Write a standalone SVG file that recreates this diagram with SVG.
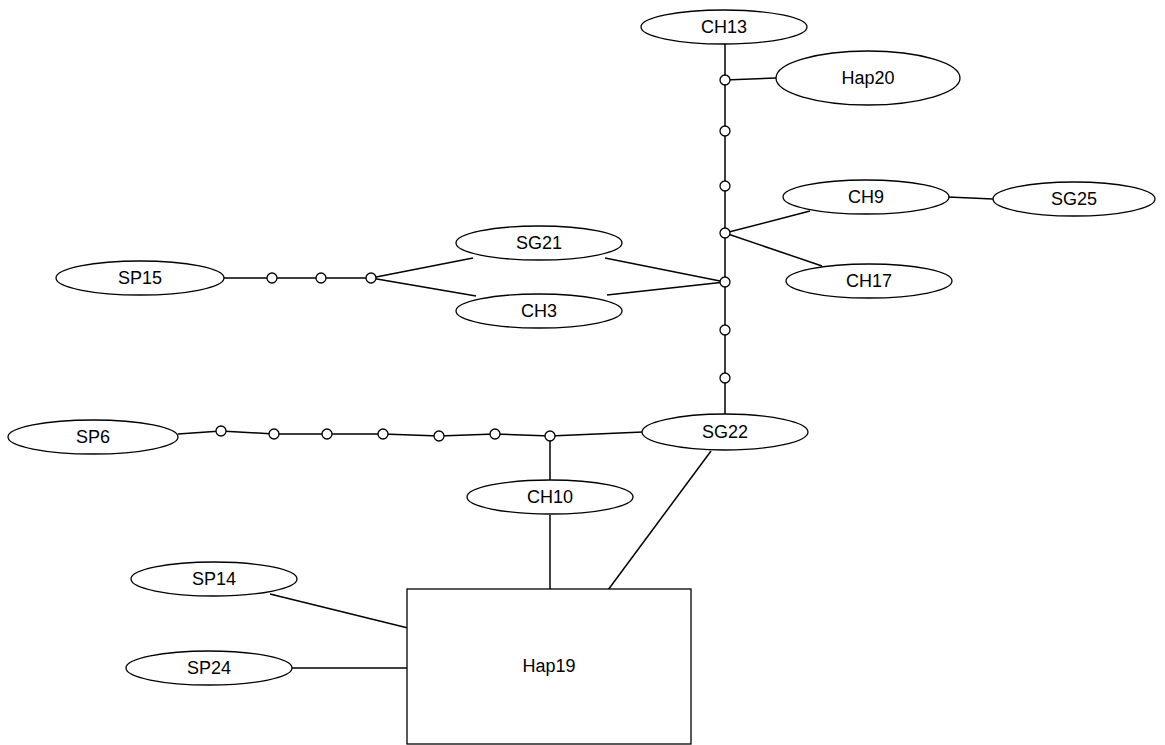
<svg xmlns="http://www.w3.org/2000/svg" width="1165" height="745" viewBox="0 0 1165 745">
<style>
.n{fill:#fff;stroke:#000;stroke-width:1.3}
.j{fill:#fff;stroke:#000;stroke-width:1.3}
.c line,.c polyline{stroke:#000;stroke-width:1.5;fill:none}
text{font-family:"Liberation Sans",Arial,sans-serif;font-size:18px;fill:#000;text-anchor:middle;dominant-baseline:central}
</style>
<rect width="1165" height="745" fill="#fff"/>
<g class="c" id="connectors">
<line x1="725" y1="44" x2="725" y2="414"/>
<line x1="725" y1="80" x2="776" y2="78"/>
<line x1="725" y1="233" x2="810" y2="211"/>
<line x1="725" y1="233" x2="822" y2="266"/>
<line x1="948" y1="197" x2="993" y2="199"/>
<line x1="725" y1="282" x2="605" y2="258"/>
<line x1="725" y1="282" x2="607" y2="295"/>
<line x1="371" y1="278" x2="473" y2="258"/>
<line x1="371" y1="278" x2="476" y2="296"/>
<line x1="224" y1="278" x2="371" y2="278"/>
<polyline points="178,434 221,431 274,434 327,434 383,434 439,436 495,434 550,436 643,432"/>
<line x1="550" y1="436" x2="550" y2="480"/>
<line x1="550" y1="515" x2="550" y2="590"/>
<line x1="711" y1="451" x2="608" y2="590"/>
<line x1="270" y1="594" x2="408" y2="628"/>
<line x1="292" y1="668" x2="408" y2="668"/>
</g>
<g id="junctions">
<circle class="j" cx="725" cy="80" r="5"/>
<circle class="j" cx="725" cy="131" r="5"/>
<circle class="j" cx="725" cy="186" r="5"/>
<circle class="j" cx="725" cy="233" r="5"/>
<circle class="j" cx="725" cy="282" r="5"/>
<circle class="j" cx="725" cy="330" r="5"/>
<circle class="j" cx="725" cy="378" r="5"/>
<circle class="j" cx="272" cy="278" r="5"/>
<circle class="j" cx="321" cy="278" r="5"/>
<circle class="j" cx="371" cy="278" r="5"/>
<circle class="j" cx="221" cy="431" r="5"/>
<circle class="j" cx="274" cy="434" r="5"/>
<circle class="j" cx="327" cy="434" r="5"/>
<circle class="j" cx="383" cy="434" r="5"/>
<circle class="j" cx="439" cy="436" r="5"/>
<circle class="j" cx="495" cy="434" r="5"/>
<circle class="j" cx="550" cy="436" r="5"/>
</g>
<g id="CH13"><ellipse class="n" cx="724" cy="27" rx="83" ry="17"/><text x="724" y="27">CH13</text></g>
<g id="Hap20"><ellipse class="n" cx="868" cy="78" rx="92" ry="27"/><text x="868" y="78">Hap20</text></g>
<g id="CH9"><ellipse class="n" cx="866" cy="197" rx="83" ry="17"/><text x="866" y="197">CH9</text></g>
<g id="SG25"><ellipse class="n" cx="1074" cy="199" rx="81" ry="17"/><text x="1074" y="199">SG25</text></g>
<g id="CH17"><ellipse class="n" cx="869" cy="281" rx="83" ry="17"/><text x="869" y="281">CH17</text></g>
<g id="SG21"><ellipse class="n" cx="539" cy="243" rx="83" ry="17"/><text x="539" y="243">SG21</text></g>
<g id="CH3"><ellipse class="n" cx="539" cy="311" rx="83" ry="17"/><text x="539" y="311">CH3</text></g>
<g id="SP15"><ellipse class="n" cx="140" cy="278" rx="84" ry="17"/><text x="140" y="278">SP15</text></g>
<g id="SP6"><ellipse class="n" cx="93" cy="437" rx="85" ry="17"/><text x="93" y="437">SP6</text></g>
<g id="SG22"><ellipse class="n" cx="725" cy="432" rx="83" ry="18"/><text x="725" y="432">SG22</text></g>
<g id="CH10"><ellipse class="n" cx="550" cy="497" rx="83" ry="17"/><text x="550" y="497">CH10</text></g>
<g id="SP14"><ellipse class="n" cx="214" cy="579" rx="83" ry="17"/><text x="214" y="579">SP14</text></g>
<g id="SP24"><ellipse class="n" cx="209" cy="668" rx="83" ry="17"/><text x="209" y="668">SP24</text></g>
<g id="Hap19"><rect class="n" x="407" y="589" width="284" height="155"/><text x="549" y="666">Hap19</text></g>
</svg>
